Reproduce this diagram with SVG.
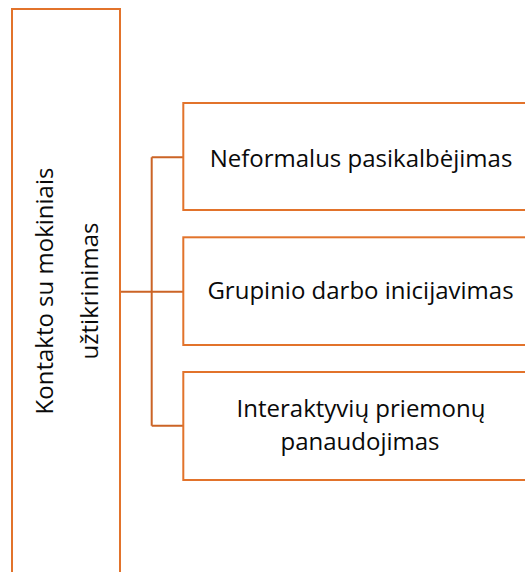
<svg xmlns="http://www.w3.org/2000/svg" width="525" height="572" viewBox="0 0 525 572">
  <style>
    .box { fill: #FFFFFF; stroke: #E2732B; stroke-width: 2; }
    .conn { fill: none; stroke: #CB6426; stroke-width: 2; }
    .lbl { font-family: "Open Sans", "Noto Sans", sans-serif; font-size: 24px; fill: #0A0A0A; text-anchor: middle; }
  </style>
  <rect x="0" y="0" width="525" height="572" fill="#FFFFFF"/>
  <g id="connectors">
    <path class="conn" d="M120,291.7 H183.3 M151.7,157.3 V425.7 M151.7,157.3 H183.3 M151.7,425.7 H183.3"/>
  </g>
  <g id="root">
    <rect class="box" x="12" y="9" width="108" height="580"/>
    <text class="lbl" transform="translate(53.3,291) rotate(-90)" x="0" y="0">Kontakto su mokiniais</text>
    <text class="lbl" transform="translate(98.3,291) rotate(-90)" x="0" y="0">užtikrinimas</text>
  </g>
  <g id="node1">
    <rect class="box" x="183.3" y="103" width="360" height="107"/>
    <text class="lbl" x="361" y="166.7">Neformalus pasikalbėjimas</text>
  </g>
  <g id="node2">
    <rect class="box" x="183.3" y="237.3" width="360" height="107.7"/>
    <text class="lbl" x="360.5" y="299">Grupinio darbo inicijavimas</text>
  </g>
  <g id="node3">
    <rect class="box" x="183.3" y="372" width="360" height="108"/>
    <text class="lbl" x="361" y="417.3">Interaktyvių priemonų</text>
    <text class="lbl" x="360" y="450">panaudojimas</text>
  </g>
</svg>
